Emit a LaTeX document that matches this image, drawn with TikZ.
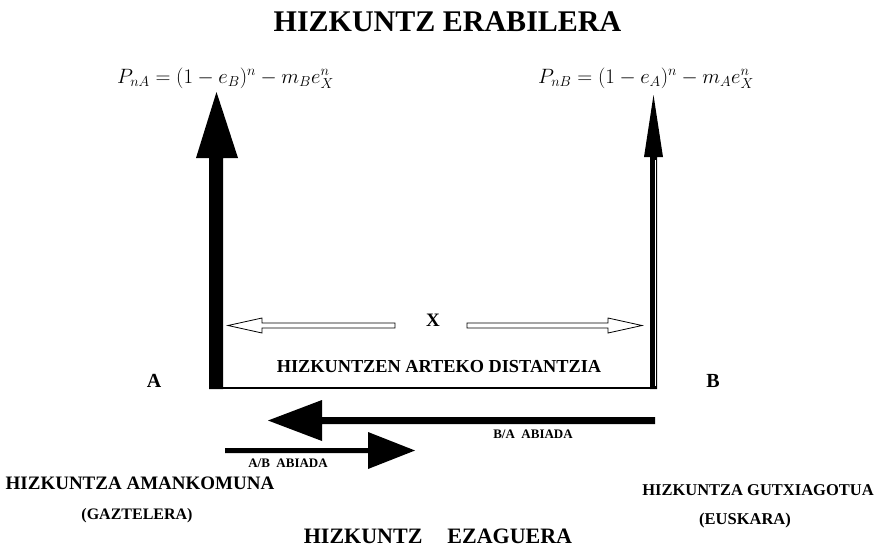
\documentclass[tikz,border=0pt]{standalone}
\usepackage{fontspec}
\setmainfont{Liberation Serif}
\begin{document}
\begin{tikzpicture}[x=1pt,y=-1pt,
  lbl/.style={inner sep=0pt,font=\bfseries},
  solidarrow/.style={fill=black,draw=none},
  hollowarrow/.style={draw=black,line width=0.8pt,fill=white,line join=miter},
  baseline/.style={line width=2pt}]
\useasboundingbox (0,0) rectangle (878,549);

% title
\node[lbl,font=\bfseries\fontsize{30}{33}\selectfont] (title) at (447.5,22) {HIZKUNTZ ERABILERA};

% formulas
\node[inner sep=0pt,anchor=base west,font=\fontsize{22.5}{25}\selectfont] (fA) at (117,83)
  {$P_{nA} = (1 - e_B)^n - m_B e_X^n$};
\node[inner sep=0pt,anchor=base west,font=\fontsize{22.5}{25}\selectfont] (fB) at (538,83)
  {$P_{nB} = (1 - e_A)^n - m_A e_X^n$};

% key points
\coordinate (Atip) at (216.5,92);
\coordinate (Abot) at (209,388);
\coordinate (Btip) at (653.5,95);
\coordinate (Bbot) at (657,388);

% left thick vertical arrow
\fill[solidarrow] (209,389) -- (209,158) -- (196,158) -- (Atip) -- (238,158) -- (223,158) -- (223,389) -- cycle;
% right thin vertical arrow
\fill[solidarrow] (650,389) -- (650,157) -- (644,157) -- (Btip) -- (663,157) -- (657,157) -- (657,389) -- cycle;
\draw[white,line width=0.6pt] (655,160) -- (655,386);
% base line
\draw[baseline] (Abot) -- (Bbot);

% hollow distance arrows
\coordinate (XL) at (228,325.5);
\coordinate (XR) at (642,325.5);
\draw[hollowarrow] (395,323) -- (262,323) -- (262,318) -- (XL) -- (262,333) -- (262,328) -- (395,328) -- cycle;
\draw[hollowarrow] (467,323) -- (608,323) -- (608,318) -- (XR) -- (608,333) -- (608,328) -- (467,328) -- cycle;
\node[lbl,font=\bfseries\fontsize{19}{21}\selectfont] (X) at (433,320) {X};
\node[lbl,font=\bfseries\fontsize{18.3}{20}\selectfont] (dist) at (439,367) {HIZKUNTZEN ARTEKO DISTANTZIA};

% A and B
\node[lbl,font=\bfseries\fontsize{20}{22}\selectfont] (A) at (154,381) {A};
\node[lbl,font=\bfseries\fontsize{20}{22}\selectfont] (B) at (713,381) {B};

% speed arrows
\coordinate (BAtip) at (268,420.5);
\coordinate (ABtip) at (415,450.5);
\fill[solidarrow] (655,417) -- (322,417) -- (322,400) -- (BAtip) -- (322,441) -- (322,424) -- (655,424) -- cycle;
\fill[solidarrow] (225,448) -- (368,448) -- (368,432) -- (ABtip) -- (368,469) -- (368,453) -- (225,453) -- cycle;
\node[lbl,font=\bfseries\fontsize{13}{15}\selectfont] (BA) at (533,434) {B/A\ \ ABIADA};
\node[lbl,font=\bfseries\fontsize{13}{15}\selectfont] (AB) at (288,463) {A/B\ \ ABIADA};

% bottom labels
\node[lbl,font=\bfseries\fontsize{19}{21}\selectfont] (amank) at (140,483) {HIZKUNTZA AMANKOMUNA};
\node[lbl,font=\bfseries\fontsize{16}{18}\selectfont] (gazt) at (137,516) {(GAZTELERA)};
\node[lbl,font=\bfseries\fontsize{22}{24}\selectfont] (ezag) at (438,536) {HIZKUNTZ\hspace{25pt}EZAGUERA};
\node[lbl,font=\bfseries\fontsize{16.5}{18}\selectfont] (gutx) at (758,490) {HIZKUNTZA GUTXIAGOTUA};
\node[lbl,font=\bfseries\fontsize{16.5}{18}\selectfont] (eusk) at (745,521) {(EUSKARA)};
\end{tikzpicture}
\end{document}
